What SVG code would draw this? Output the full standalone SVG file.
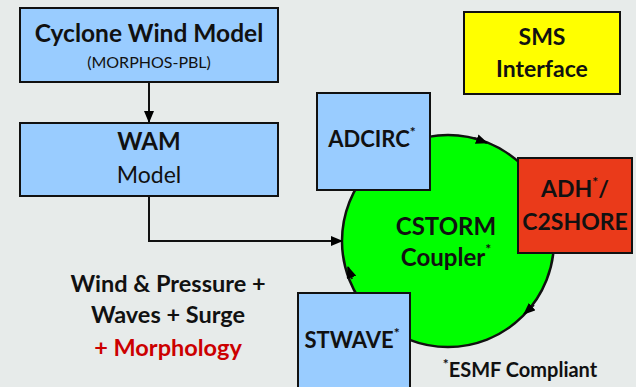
<svg xmlns="http://www.w3.org/2000/svg" width="636" height="387" viewBox="0 0 636 387">
<defs>
<marker id="ah" markerWidth="12" markerHeight="10" refX="11" refY="5" orient="auto" markerUnits="userSpaceOnUse">
<path d="M0,0 L12,5 L0,10 Z" fill="#000"/>
</marker>
<style>
.bg{fill:#e7ebea}
.box{stroke:#111;stroke-width:2}
.blue{fill:#99ccff}
.yellow{fill:#ffff00}
.red{fill:#ea3a1a}
.green{fill:#00ff00}
.t{font-family:Lato,"Open Sans","Liberation Sans",sans-serif;fill:#111;text-anchor:middle}
.b{font-weight:bold}
.conn{fill:none;stroke:#111;stroke-width:2}
.sup{font-size:14px}
</style>
</defs>
<rect class="bg" x="0" y="0" width="636" height="387"/>

<g id="cyclone">
<rect class="box blue" x="20" y="8" width="258" height="74"/>
<text class="t b" x="149" y="42" font-size="24.5">Cyclone Wind Model</text>
<text class="t" x="149" y="68" font-size="16">(MORPHOS-PBL)</text>
</g>

<g id="wam">
<rect class="box blue" x="20" y="123" width="258" height="73"/>
<text class="t b" x="149" y="150" font-size="24">WAM</text>
<text class="t" x="149" y="183" font-size="23">Model</text>
</g>

<g id="sms">
<rect class="box yellow" x="464" y="12" width="156" height="82"/>
<text class="t b" x="542" y="45" font-size="23">SMS</text>
<text class="t b" x="542" y="77" font-size="23">Interface</text>
</g>

<g id="cstorm">
<circle class="green" cx="448" cy="241" r="106" stroke="#111" stroke-width="2.5"/>
<text class="t b" x="446" y="235" font-size="24">CSTORM</text>
<text class="t b" x="446" y="266" font-size="24">Coupler<tspan class="sup" dy="-12">*</tspan></text>
</g>

<g id="adcirc">
<rect class="box blue" x="317" y="93" width="113" height="97"/>
<text class="t b" x="372" y="147" font-size="22">ADCIRC<tspan class="sup" dy="-10">*</tspan></text>
</g>

<g id="adh">
<rect class="box red" x="518" y="158" width="114" height="95"/>
<text class="t b" x="575" y="197" font-size="23">ADH<tspan class="sup" dy="-10">*</tspan><tspan dy="10">/</tspan></text>
<text class="t b" x="575" y="230" font-size="23">C2SHORE</text>
</g>

<g id="stwave">
<rect class="box blue" x="298" y="293" width="112" height="100"/>
<text class="t b" x="352" y="348" font-size="22">STWAVE<tspan class="sup" dy="-10">*</tspan></text>
</g>

<g id="legend">
<text class="t b" x="168" y="292" font-size="23.5">Wind &amp; Pressure +</text>
<text class="t b" x="168" y="323" font-size="23.5">Waves + Surge</text>
<text class="t b" x="168" y="356" font-size="23.5" style="fill:#cc0000">+ Morphology</text>
<text class="t b" x="520" y="377" font-size="20"><tspan class="sup" dy="-8">*</tspan><tspan dy="8">ESMF Compliant</tspan></text>
</g>

<g id="connectors">
<path class="conn" d="M149,82 L149,122" marker-end="url(#ah)"/>
<path class="conn" d="M149,196 L149,241 L342,241" marker-end="url(#ah)"/>
<path class="conn" d="M474,138 L487,143" marker-end="url(#ah)"/>
<path class="conn" d="M534,305 L524,314" marker-end="url(#ah)"/>
<path class="conn" d="M352,279 L348,267" marker-end="url(#ah)"/>
</g>
</svg>
